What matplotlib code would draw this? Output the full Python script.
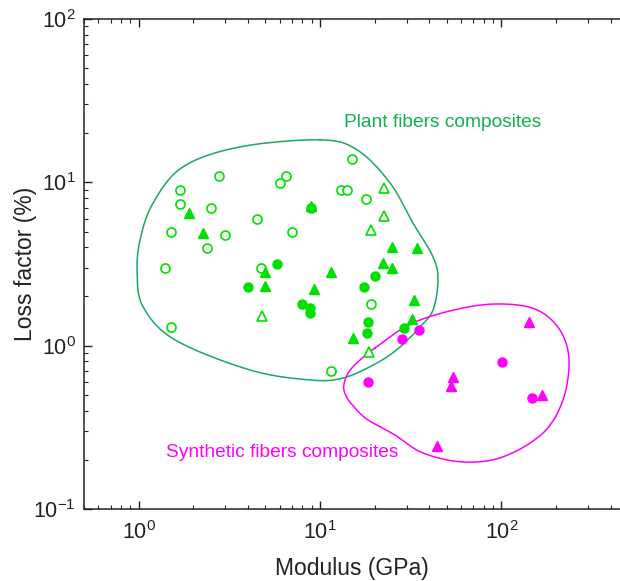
import numpy as np
import matplotlib
matplotlib.use("Agg")
import matplotlib.pyplot as plt
from matplotlib.ticker import LogLocator, NullFormatter, FuncFormatter

plt.rcParams['font.family'] = ['Liberation Sans', 'DejaVu Sans']
plt.rcParams['mathtext.fontset'] = 'custom'
plt.rcParams['mathtext.rm'] = 'Liberation Sans'

# ---- data: modulus (GPa), loss factor (%) ----
plant_open_circle_x = [2.79, 6.50, 6.02, 1.70, 1.70, 2.50, 4.50, 1.50, 3.00, 6.98, 2.39,
                       1.40, 4.71, 1.50, 14.95, 13.0, 14.0, 18.0, 8.96, 19.0, 11.5]
plant_open_circle_y = [10.9, 10.9, 9.96, 8.94, 7.37, 6.94, 5.97, 4.97, 4.76, 4.97, 3.98,
                       2.99, 2.99, 1.30, 13.9, 8.94, 8.94, 7.91, 6.94, 1.80, 0.70]

plant_open_tri_x = [22.6, 22.6, 19.0, 4.81, 18.6]
plant_open_tri_y = [9.20, 6.23, 5.09, 1.51, 0.915]

plant_fill_tri_x = [1.90, 2.26, 4.98, 4.98, 8.89, 24.9, 34.1, 22.2, 25.0, 11.5, 9.30, 33.0, 32.0, 15.1]
plant_fill_tri_y = [6.52, 4.88, 2.81, 2.33, 7.20, 4.02, 3.98, 3.22, 2.98, 2.81, 2.22, 1.90, 1.46, 1.11]

plant_fill_circle_x = [5.80, 4.00, 7.93, 8.81, 8.81, 20.2, 17.4, 18.4, 18.2, 28.9]
plant_fill_circle_y = [3.18, 2.30, 1.80, 1.71, 1.59, 2.68, 2.30, 1.40, 1.20, 1.29]

synth_circle_x = [35.2, 28.3, 100.7, 18.3, 146.7]
synth_circle_y = [1.24, 1.10, 0.798, 0.600, 0.476]

synth_tri_x = [141.8, 54.0, 52.9, 167.9, 44.1]
synth_tri_y = [1.40, 0.646, 0.564, 0.497, 0.244]

# envelope outlines (log10 modulus, log10 loss factor)
plant_env_lx = [1.000, 1.204, 1.386, 1.512, 1.623, 1.650, 1.623, 1.551, 1.441, 1.314, 1.127,
                0.945, 0.614, 0.201, 0.025, -0.008, 0.008, 0.080, 0.245, 0.559, 0.835]
plant_env_ly = [1.260, 1.199, 0.996, 0.751, 0.543, 0.402, 0.219, 0.115, -0.008, -0.106, -0.198,
                -0.210, -0.149, 0.035, 0.237, 0.445, 0.648, 0.874, 1.095, 1.217, 1.260]
synth_env_lx = [1.303, 1.512, 1.788, 2.008, 2.196, 2.322, 2.372, 2.339, 2.229, 2.008,
                1.788, 1.567, 1.413, 1.264, 1.193, 1.143, 1.132, 1.176]
synth_env_ly = [-0.014, 0.139, 0.231, 0.255, 0.219, 0.096, -0.087, -0.332, -0.535, -0.681,
                -0.712, -0.657, -0.547, -0.455, -0.382, -0.308, -0.234, -0.136]

GREEN_M = '#00e000'
GREEN_L = '#1aa862'
MAG = '#ff00ff'


def closed_spline(px, py, n=30):
    p = np.column_stack([px, py])
    m = len(p)
    out = []
    for i in range(m):
        p0, p1, p2, p3 = p[(i - 1) % m], p[i], p[(i + 1) % m], p[(i + 2) % m]
        t = np.linspace(0, 1, n, endpoint=False)[:, None]
        seg = 0.5 * ((2 * p1) + (-p0 + p2) * t + (2 * p0 - 5 * p1 + 4 * p2 - p3) * t ** 2
                     + (-p0 + 3 * p1 - 3 * p2 + p3) * t ** 3)
        out.append(seg)
    out = np.vstack(out + [out[0][:1]])
    return 10 ** out[:, 0], 10 ** out[:, 1]


fig = plt.figure(figsize=(6.2, 5.81), dpi=100)
ax = fig.add_axes([84 / 620, 72 / 581, 536 / 620, 490 / 581])
ax.set_xscale('log')
ax.set_yscale('log')
ax.set_xlim(0.5, 450)
ax.set_ylim(0.1, 100)

gx, gy = closed_spline(plant_env_lx[:-1], plant_env_ly[:-1])
ax.plot(gx, gy, color=GREEN_L, lw=1.1, zorder=1)
sx, sy = closed_spline(synth_env_lx, synth_env_ly)
ax.plot(sx, sy, color=MAG, lw=1.1, zorder=1)

ax.plot(plant_open_circle_x, plant_open_circle_y, 'o', ls='none', ms=6.5, mfc='white',
        mec=GREEN_M, mew=1.2, zorder=3)
ax.plot(plant_open_tri_x, plant_open_tri_y, '^', ls='none', ms=7, mfc='white',
        mec=GREEN_M, mew=1.2, zorder=3)
ax.plot(plant_fill_tri_x, plant_fill_tri_y, '^', ls='none', ms=7, mfc=GREEN_M,
        mec=GREEN_M, zorder=3)
ax.plot(plant_fill_circle_x, plant_fill_circle_y, 'o', ls='none', ms=6.5, mfc=GREEN_M,
        mec=GREEN_M, zorder=3)
ax.plot(synth_circle_x, synth_circle_y, 'o', ls='none', ms=6.5, mfc=MAG, mec=MAG, zorder=3)
ax.plot(synth_tri_x, synth_tri_y, '^', ls='none', ms=7, mfc=MAG, mec=MAG, zorder=3)

ax.text(47.6, 23.1, 'Plant fibers composites', color='#10b050', fontsize=13.8,
        ha='center', va='center')
ax.text(6.18, 0.223, 'Synthetic fibers composites', color=MAG, fontsize=13.8,
        ha='center', va='center')

ax.set_xlabel('Modulus (GPa)', fontsize=16.5, color='#222222', labelpad=9)
ax.set_ylabel('Loss factor (%)', fontsize=16.5, color='#222222', labelpad=-3)


def pow_fmt(v, pos):
    e = int(round(np.log10(v)))
    return r'$\mathregular{10^{%d}}$' % e


ax.xaxis.set_major_locator(LogLocator(base=10, numticks=10))
ax.yaxis.set_major_locator(LogLocator(base=10, numticks=10))
ax.xaxis.set_major_formatter(FuncFormatter(pow_fmt))
ax.yaxis.set_major_formatter(FuncFormatter(pow_fmt))
ax.xaxis.set_minor_locator(LogLocator(base=10, subs=np.arange(2, 10), numticks=20))
ax.yaxis.set_minor_locator(LogLocator(base=10, subs=np.arange(2, 10), numticks=20))
ax.xaxis.set_minor_formatter(NullFormatter())
ax.yaxis.set_minor_formatter(NullFormatter())
ax.tick_params(which='both', direction='in', top=True, right=False, colors='#222222',
               labelsize=15.5)
ax.tick_params(which='major', length=6, width=1)
ax.tick_params(which='minor', length=3, width=0.8)
ax.tick_params(axis='x', pad=9)
ax.tick_params(axis='y', pad=6)
for s in ['left', 'bottom', 'top']:
    ax.spines[s].set_color('#222222')
    ax.spines[s].set_linewidth(1.1)
ax.spines['right'].set_visible(False)

fig.savefig('out.png', dpi=100)
